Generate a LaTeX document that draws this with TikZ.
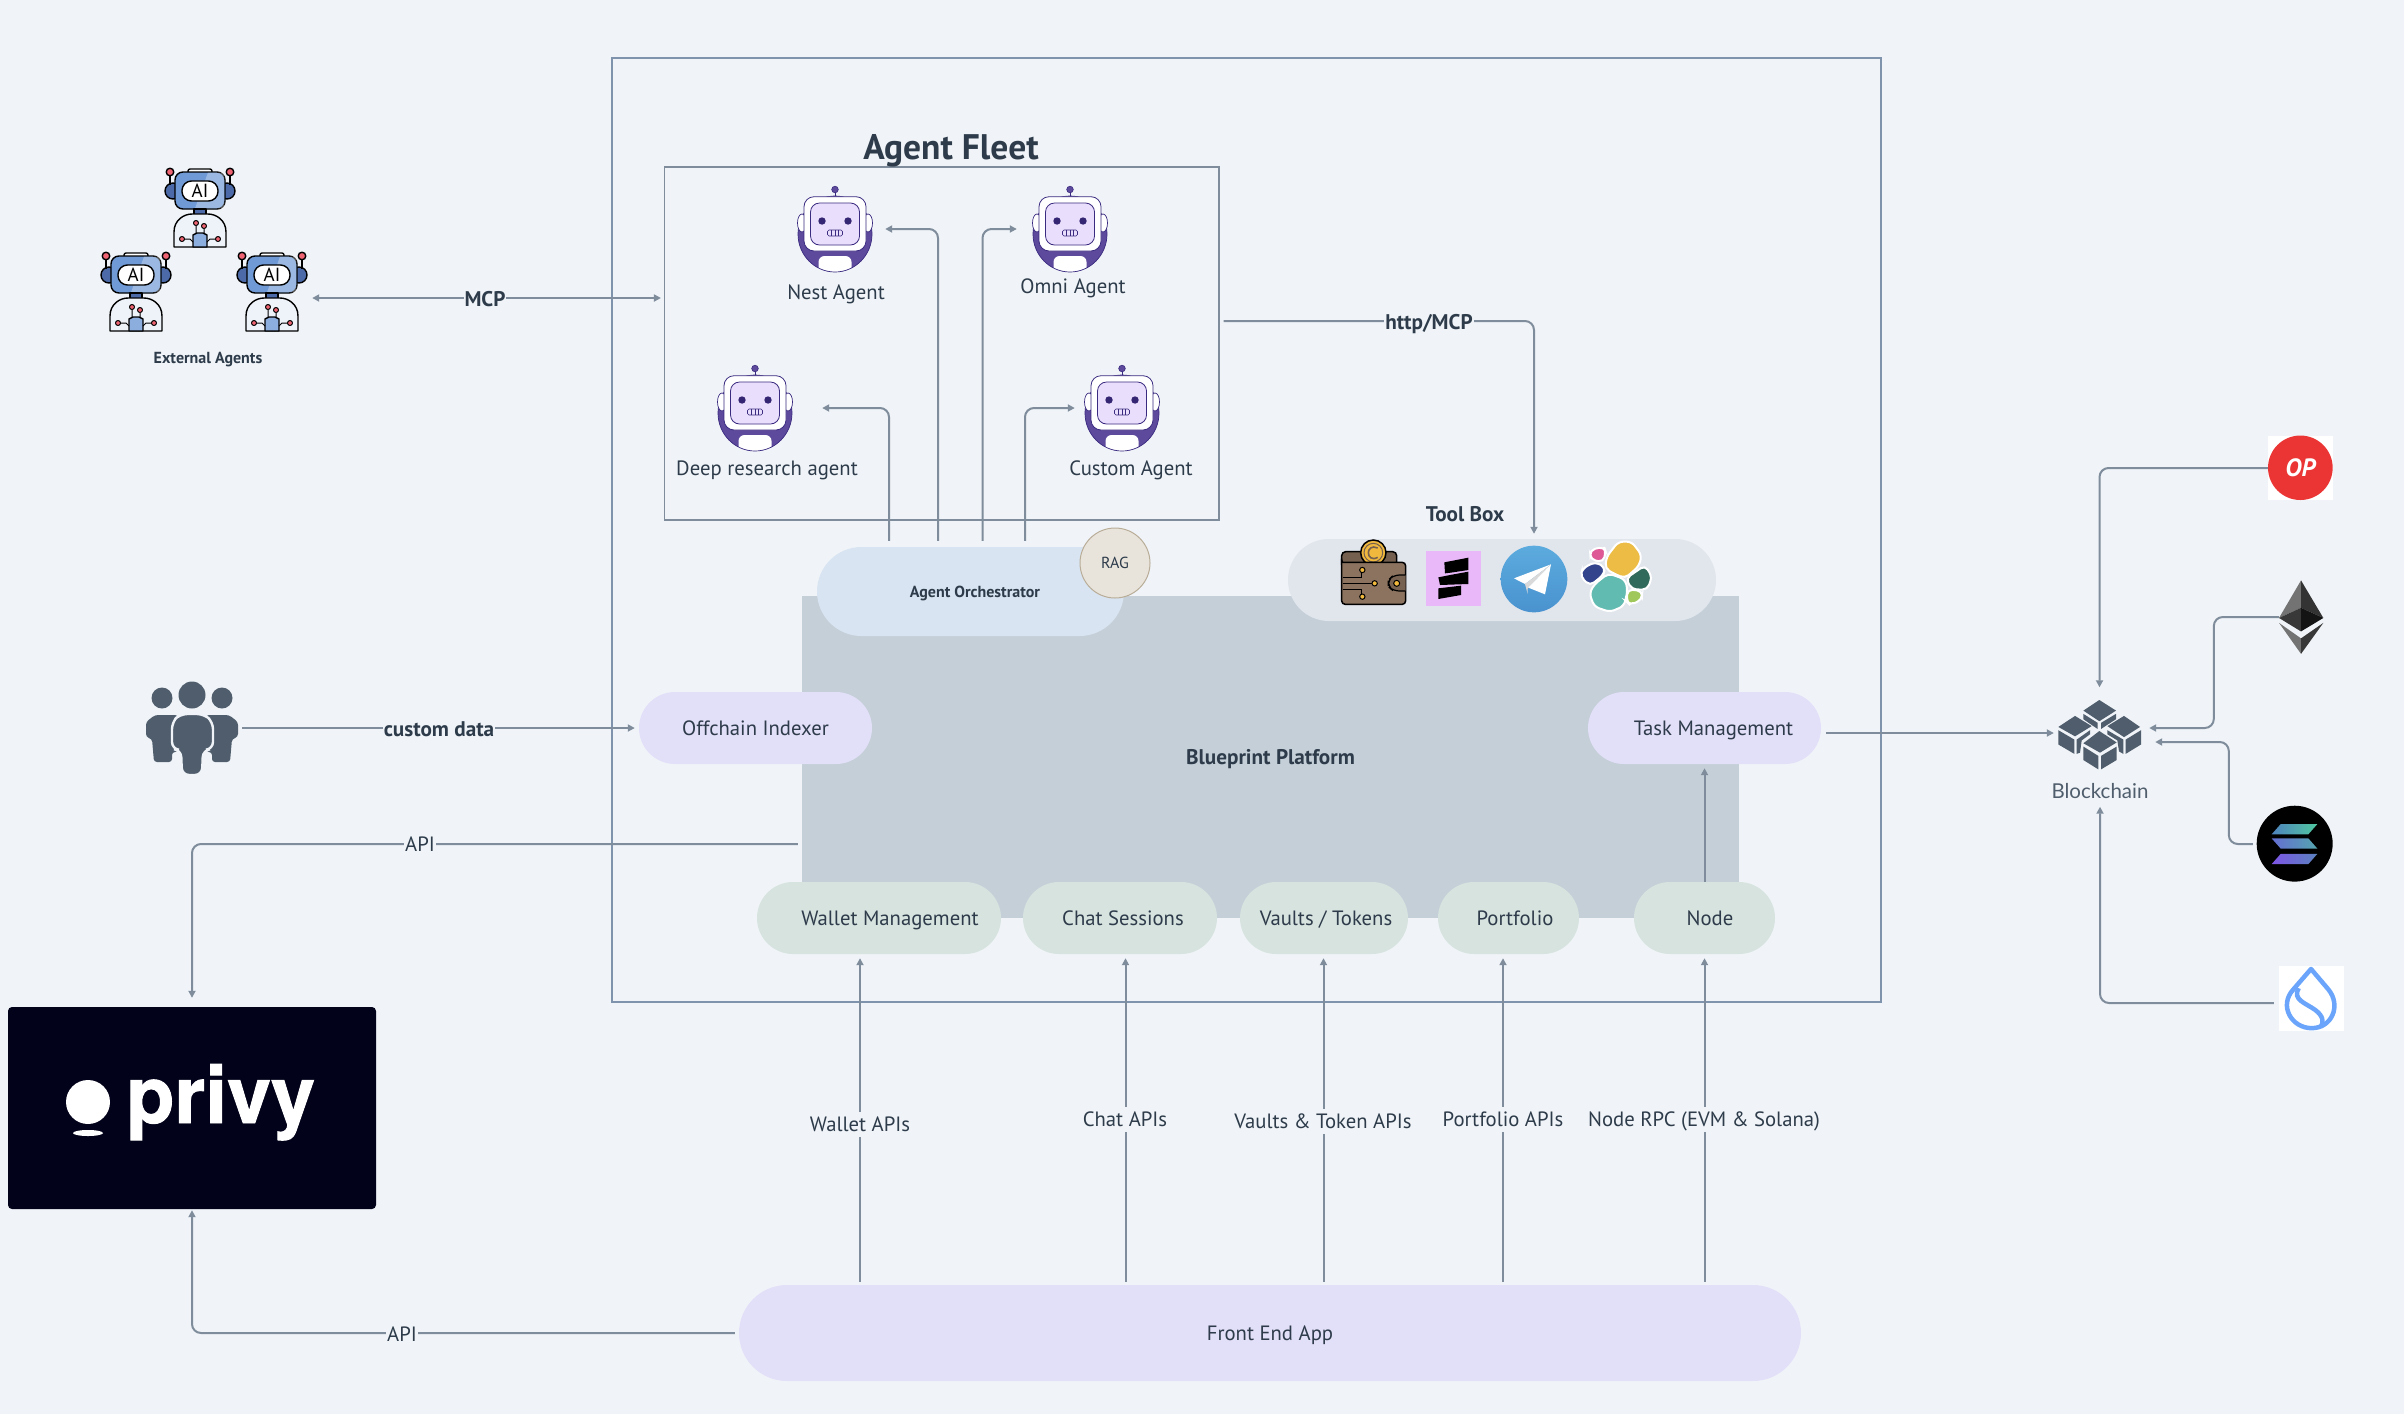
\documentclass[tikz,border=0pt]{standalone}
\usepackage{fontspec}
\setmainfont{PT Sans}
\newfontfamily\logofont[FakeBold=1.2]{TeX Gyre Heros}
\newfontfamily\chainfont{Lato}
\usetikzlibrary{arrows.meta,shapes.misc}
\definecolor{bgc}{HTML}{F0F4F8}
\definecolor{linec}{HTML}{7F8C9B}
\definecolor{framec}{HTML}{7F93AD}
\definecolor{inkc}{HTML}{2D3B4A}
\definecolor{slatec}{HTML}{4F5D6C}
\definecolor{platc}{HTML}{C4CFD8}
\definecolor{lilacc}{HTML}{E2DFF8}
\definecolor{sagec}{HTML}{D7E3DF}
\definecolor{orchc}{HTML}{D8E4F1}
\definecolor{toolc}{HTML}{E1E5EC}
\definecolor{ragc}{HTML}{E8E4DC}
\definecolor{ragl}{HTML}{B9AD98}
\definecolor{botp}{HTML}{5E4A9C}
\definecolor{botd}{HTML}{3A2A80}
\definecolor{botl}{HTML}{E9DFFC}
\definecolor{aib}{HTML}{6F9AD6}
\definecolor{aid}{HTML}{4C6AA8}
\definecolor{aired}{HTML}{EE6472}
\definecolor{suic}{HTML}{6AA5FB}
\definecolor{privyc}{HTML}{02021A}
\definecolor{walc}{HTML}{8C7360}
\definecolor{wald}{HTML}{75604F}
\definecolor{coinc}{HTML}{F0B93E}
\definecolor{squarec}{HTML}{E9B8F9}
\definecolor{tgtop}{HTML}{5CABDE}
\definecolor{tgbot}{HTML}{4992CF}
\tikzset{
  x=1pt,y=-1pt,
  txt/.style={text=inkc,font=\fontsize{20.7}{24}\selectfont,inner sep=0pt,text height=15pt,text depth=0pt},
  bold/.style={txt,font=\fontsize{21.2}{24}\selectfont\bfseries},
  lab/.style={txt,fill=bgc,inner xsep=1pt,inner ysep=5pt},
  blab/.style={bold,fill=bgc,inner xsep=1pt,inner ysep=5pt},
  pill/.style={rounded rectangle,inner sep=0pt,text=inkc,font=\fontsize{20.7}{24}\selectfont,text height=15pt,text depth=0pt},
  small/.style={font=\fontsize{16}{18}\selectfont\bfseries,text height=11.5pt,text depth=0pt},
  conn/.style={draw=linec,line width=2pt,rounded corners=9pt},
  tip/.style={-{Triangle[length=7pt,width=7pt]}},
  twotip/.style={{Triangle[length=7pt,width=7pt]}-{Triangle[length=7pt,width=7pt]}},
  holder/.style={inner sep=0pt,minimum width=#1},
  zoomA/.style={shift={(1260,490)},x=.33333pt,y=-.33333pt},
  zoomB/.style={shift={(2030,420)},x=.33333pt,y=-.40816pt},
}
\newcommand{\agentbot}[1]{%
  \begin{scope}[shift={#1}]
    \fill[botp] (0,48) ellipse [x radius=37,y radius=38];
    \begin{scope}
      \clip (0,48) ellipse [x radius=37,y radius=38];
      \fill[white,rounded corners=6pt] (-16.5,70) rectangle (16.5,100);
    \end{scope}
    \draw[botd,line width=.7pt] (0,48) ellipse [x radius=37,y radius=38];
    \draw[botd,fill=white,line width=.7pt] (-33,37) ellipse [x radius=4.5,y radius=9];
    \draw[botd,fill=white,line width=.7pt] (33,37) ellipse [x radius=4.5,y radius=9];
    \draw[botd,line width=.7pt] (0,6) -- (0,11);
    \draw[botd,fill=botp,line width=.6pt] (0,3.5) circle [radius=3.3];
    \draw[botd,fill=white,line width=.8pt,rounded corners=10pt] (-31,10.7) rectangle (31,65);
    \draw[botd,fill=botl,line width=.8pt,rounded corners=9pt] (-24.5,17) rectangle (24.5,59);
    \fill[botd!90!black] (-13,35) circle [radius=3.7] (13,35) circle [radius=3.7];
    \draw[botd,fill=botl,line width=.6pt,rounded corners=1.5pt] (-7.5,44) rectangle (7.5,50);
    \draw[botd,line width=.5pt] (-3.5,44) -- (-3.5,50) (0,44) -- (0,50) (3.5,44) -- (3.5,50);
  \end{scope}}
\newcommand{\airobot}[2]{%
  \begin{scope}[shift={#1},line width=1.4pt,line join=round]
    \draw[fill=aid] (-27,23) circle [radius=8];
    \draw[fill=aid] (27,23) circle [radius=8];
    \draw (-30,8) -- (-30,17) (30,8) -- (30,17);
    \draw[fill=aired] (-30,4) circle [radius=3.8];
    \draw[fill=aired] (30,4) circle [radius=3.8];
    \draw[fill=white,rounded corners=2pt] (-12,1) rectangle (12,6);
    \draw[fill=aib,rounded corners=8pt] (-25,4) rectangle (25,41);
    \fill[white,opacity=.3] (8,4.6) -- (24.3,4.6) -- (24.3,40.4) -- (-5,40.4) -- cycle;
    \draw[fill=white,rounded corners=9.5pt] (-18,13) rectangle (18,33);
    \node[inner sep=0pt,text=black,font=\fontsize{19}{20}\selectfont] (#2) at (0,23) {AI};
    \draw[fill=aid] (-6,41) rectangle (6,47);
    \draw[fill=white!88!aib] (-26,79) -- (-26,64) .. controls (-26,52) and (-16,46) .. (-8,46) -- (8,46) .. controls (16,46) and (26,52) .. (26,64) -- (26,79) -- cycle;
    \draw[fill=aib!80!white] (-7,79) -- (-7,67) -- (-3,65) -- (3,65) -- (7,67) -- (7,79) -- cycle;
    \draw[line width=1pt] (-4,58) -- (-4,65) (4,61) -- (4,65) (-16,71) -- (-10,71) -- (-7,74) (16,71) -- (10,71) -- (7,74);
    \draw[line width=1pt,fill=aired] (-4,55) circle [radius=2.5];
    \draw[line width=1pt,fill=aired] (4,58) circle [radius=2.5];
    \draw[line width=1pt,fill=aired] (-18,71) circle [radius=2.5];
    \draw[line width=1pt,fill=aired] (18,71) circle [radius=2.5];
  \end{scope}}
\begin{document}
\begin{tikzpicture}
\useasboundingbox (0,0) rectangle (2404,1414);
\fill[bgc] (0,0) rectangle (2404,1414);

% frames
\node[draw=framec,line width=1.4pt,minimum width=1269pt,minimum height=944pt,inner sep=0pt] (frame) at (1246.5,530) {};
\node[draw=linec,line width=1.1pt,minimum width=554.5pt,minimum height=353pt,inner sep=0pt] (fleet) at (941.75,343.5) {};
\node[bold,font=\fontsize{35.5}{38}\selectfont\bfseries,text height=25pt] (fleetT) at (951,147) {Agent Fleet};
\node[fill=platc,minimum width=937pt,minimum height=322pt,inner sep=0pt,text=inkc,font=\fontsize{21.2}{24}\selectfont\bfseries,text height=15pt,text depth=0pt] (platform) at (1270.5,757) {Blueprint Platform};

% icon holders
\node[holder=75pt,minimum height=86pt] (nest) at (835,229) {};
\node[holder=75pt,minimum height=86pt] (omni) at (1070,229) {};
\node[holder=75pt,minimum height=86pt] (deep) at (755,408) {};
\node[holder=75pt,minimum height=86pt] (custom) at (1122,408) {};
\node[holder=74pt,minimum height=80pt] (extT) at (200,207) {};
\node[holder=74pt,minimum height=80pt] (extL) at (136,292) {};
\node[holder=74pt,minimum height=80pt] (extR) at (272,292) {};
\node[holder=100pt,minimum height=92pt] (people) at (192,728) {};
\node[holder=83pt,minimum height=69pt] (chain) at (2099.5,734) {};
\node[holder=65pt,minimum height=64pt,fill=white] (op) at (2300.5,468) {};
\node[holder=44pt,minimum height=74pt] (eth) at (2301,617) {};
\node[holder=84pt,minimum height=76pt] (sol) at (2295,844) {};
\node[holder=65pt,minimum height=65pt,fill=white] (sui) at (2311.5,998.5) {};
\node[fill=privyc,rounded corners=4pt,minimum width=368pt,minimum height=202pt,inner sep=0pt] (privy) at (192,1108) {};
\node[txt,text=slatec,font=\chainfont\fontsize{20.5}{22}\selectfont] (chainL) at (2100,791) {Blockchain};
\node[bold,small] (extLbl) at (208,358) {External Agents};

% text of agents
\node[txt] (nestL) at (836,292) {Nest Agent};
\node[txt] (omniL) at (1073,286) {Omni Agent};
\node[txt] (deepL) at (767,468) {Deep research agent};
\node[txt] (customL) at (1131,468) {Custom Agent};
\node[bold] (toolL) at (1465,514) {Tool Box};

% pills
\node[pill,fill=toolc,minimum width=428pt,minimum height=82pt] (tools) at (1502,580) {};
\node[pill,fill=orchc,minimum width=307pt,minimum height=89pt,small] (orch) at (970.5,591.5) {\hspace*{9pt}Agent Orchestrator};
\node[pill,fill=lilacc,minimum width=233pt,minimum height=72pt] (offchain) at (755.5,728) {Offchain Indexer};
\node[pill,fill=lilacc,minimum width=233pt,minimum height=72pt] (task) at (1704.5,728) {\hspace*{18pt}Task Management};
\node[pill,fill=sagec,minimum width=244pt,minimum height=72pt] (wm) at (879,918) {\hspace*{22pt}Wallet Management};
\node[pill,fill=sagec,minimum width=194pt,minimum height=72pt] (chat) at (1120,918) {\hspace*{6pt}Chat Sessions};
\node[pill,fill=sagec,minimum width=168pt,minimum height=72pt] (vaults) at (1324,918) {\hspace*{4pt}Vaults / Tokens};
\node[pill,fill=sagec,minimum width=141pt,minimum height=72pt] (port) at (1508.5,918) {\hspace*{13pt}Portfolio};
\node[pill,fill=sagec,minimum width=141pt,minimum height=72pt] (nodeP) at (1704.5,918) {\hspace*{11pt}Node};
\node[pill,fill=lilacc,minimum width=1062pt,minimum height=96pt] (fe) at (1270,1333) {Front End App};
\node[draw=ragl,line width=1pt,fill=ragc,circle,minimum size=70pt,inner sep=0pt,text=inkc,font=\fontsize{16}{18}\selectfont,text height=11.5pt,text depth=0pt] (rag) at (1115,563) {RAG};

% connectors: agents
\draw[conn,tip,shorten <=6pt,shorten >=12.5pt] ([xshift=-32.5pt]orch.north) |- (nest.east);
\draw[conn,tip,shorten <=6pt,shorten >=15.5pt] ([xshift=12pt]orch.north) |- (omni.west);
\draw[conn,tip,shorten <=6pt,shorten >=9.5pt] ([xshift=54.5pt]orch.north) |- (custom.west);
\draw[conn,tip,shorten <=6pt,shorten >=29.5pt] ([xshift=-81.5pt]orch.north) |- (deep.east);
% MCP
\coordinate (mcpA) at ([yshift=-6pt]extR.east);
\draw[conn,twotip,shorten <=3pt,shorten >=3pt] (mcpA) -- (mcpA -| fleet.west);
\node[blab] (mcpL) at (485,299) {MCP};
% http
\coordinate (httpA) at ([yshift=22.5pt]fleet.east);
\coordinate (toolIn) at ([xshift=32pt]tools.north);
\draw[conn,tip,shorten <=4pt,shorten >=5pt] (httpA) -| (toolIn);
\node[blab] (httpL) at (1429,322) {http/MCP};
% custom data
\draw[conn,tip,shorten >=4pt] (people.east) -- (offchain.west);
\node[blab] (dataL) at (439,729) {custom data};
% API
\coordinate (apiA) at ([yshift=-87pt]platform.west);
\draw[conn,tip,shorten <=4pt,shorten >=9pt] (apiA) -| (privy.north);
\node[lab] (apiTop) at (420,844) {API};
\draw[conn,tip,shorten <=4pt,shorten >=1pt] (fe.west) -| (privy.south);
\node[lab] (apiBot) at (402,1334) {API};
% Front end
\coordinate (wmIn) at ([xshift=-19pt]wm.south);
\coordinate (chatIn) at ([xshift=5.5pt]chat.south);
\coordinate (vaultIn) at ([xshift=-.5pt]vaults.south);
\coordinate (portIn) at ([xshift=-5.5pt]port.south);
\coordinate (nodeIn) at ([xshift=0pt]nodeP.south);
\foreach \c in {wmIn,chatIn,vaultIn,portIn,nodeIn}
  \draw[conn,tip,shorten <=3pt,shorten >=4pt] (\c |- fe.north) -- (\c);
\node[lab] (apiW) at (860,1124) {Wallet APIs};
\node[lab] (apiC) at (1125,1119) {Chat APIs};
\node[lab] (apiV) at (1323,1121) {Vaults \& Token APIs};
\node[lab] (apiP) at (1503,1119) {Portfolio APIs};
\node[lab] (apiN) at (1704,1119) {Node RPC (EVM \& Solana)};
\coordinate (nodeUp) at (nodeP.north);
\draw[conn,tip,shorten >=4pt] (nodeUp) -- (nodeUp |- task.south);
% blockchain
\coordinate (tmA) at ([xshift=5pt,yshift=-5pt]task.east);
\draw[conn,tip,shorten >=4pt] (tmA) -- (tmA -| chain.west);
\draw[conn,tip,shorten >=12pt] (op.west) -| (chain.north);
\coordinate (ethIn) at ([yshift=6pt]chain.east);
\draw[conn,tip,shorten >=8pt] (eth.west) -- ++(-65,0) |- (ethIn);
\coordinate (solIn) at ([yshift=-8pt]chain.east);
\draw[conn,tip,shorten >=14pt] (sol.west) -- ++(-24,0) |- (solIn);
\coordinate (suiA) at ([xshift=-5pt,yshift=-4.5pt]sui.west);
\draw[conn,tip,shorten >=8pt] (suiA) -| (chainL.south);

% robots
\agentbot{(835,186)}
\agentbot{(1070,186)}
\agentbot{(755,365)}
\agentbot{(1122,365)}
\airobot{(200,168)}{aiT}
\airobot{(136,252)}{aiL}
\airobot{(272,252)}{aiR}

% people
\begin{scope}[slatec]
  \fill (162,698) circle [radius=10.5] (222,698) circle [radius=10.5] (192,695) circle [radius=13.5];
  \fill[rounded corners=3pt] (155,715) -- (178,715) -- (178,752) -- (172,752) -- (172,762) -- (154,762) -- (152,739) -- (146,737) -- (146,722) -- cycle;
  \fill[rounded corners=3pt] (229,715) -- (206,715) -- (206,752) -- (212,752) -- (212,762) -- (230,762) -- (232,739) -- (238,737) -- (238,722) -- cycle;
  \draw[bgc,line width=2.4pt,fill=slatec,rounded corners=7pt] (172,749) -- (172,722) -- (180,714) -- (204,714) -- (213,722) -- (213,749) -- (203,750) -- (202,775) -- (182,775) -- (181,750) -- cycle;
\end{scope}

% privy logo
\fill[white] (88,1102) circle [radius=22];
\fill[white] (88,1133) ellipse [x radius=15,y radius=3];
\node[inner sep=0pt,anchor=base west,text=white,font=\logofont\fontsize{79}{84}\selectfont\bfseries] (privyT) at (126,1123) {privy};

% toolbox icons
\begin{scope}[zoomA]
  % wallet
  \draw[black,fill=wald,line width=1.5pt,rounded corners=4pt] (245,225) -- (245,185) -- (410,185) -- (410,225);
  \draw[black,fill=coinc,line width=1.5pt] (340,188) circle [radius=38];
  \draw[wald,line width=1pt] (340,188) circle [radius=28];
  \draw[wald,line width=1.6pt] (353,174) .. controls (335,165) and (325,178) .. (325,188) .. controls (325,200) and (335,212) .. (353,202);
  \draw[black,fill=walc,line width=1.5pt,rounded corners=3.5pt] (245,200) .. controls (245,217) and (250,217) .. (260,217) -- (437,217) -- (437,343) -- (245,343) -- cycle;
  \draw[black,line width=1.2pt,fill=walc!85!black,rounded corners=6pt] (437,255) -- (400,255) -- (385,270) -- (385,290) -- (400,303) -- (437,303);
  \draw[black,fill=coinc,line width=1pt] (410,280) circle [radius=9];
  \draw[black,line width=1pt] (248,262) -- (305,262) -- (305,240) (248,280) -- (342,280) (248,297) -- (305,297) -- (305,320);
  \draw[black,fill=coinc,line width=1pt] (307,240) circle [radius=8];
  \draw[black,fill=coinc,line width=1pt] (344,280) circle [radius=8];
  \draw[black,fill=coinc,line width=1pt] (307,320) circle [radius=8];
  % square logo
  \fill[squarec] (498,182) rectangle (663,348);
  \fill[black] (553,217) -- (625,203) -- (625,240) -- (572,248) -- (555,250) -- cycle;
  \fill[black] (625,245) -- (625,282) -- (540,285) -- (535,262) -- (570,255) -- cycle;
  \fill[black] (535,295) -- (603,287) -- (603,315) -- (535,327) -- cycle;
  % telegram
  \shade[top color=tgtop,bottom color=tgbot] (822,267) circle [radius=100];
  \fill[white] (762,265) -- (873,223) -- (795,282) -- cycle;
  \fill[black!15!white] (795,282) -- (873,223) -- (803,296) -- (803,312) -- cycle;
  \fill[white] (805,293) -- (873,223) -- (855,313) -- cycle;
  % elastic
  \begin{scope}[draw=white,line width=2pt,rounded corners=5pt]
    \draw[fill={rgb,255:red,236;green,188;blue,69}] (1040,200) -- (1075,155) -- (1115,155) -- (1145,195) -- (1137,228) -- (1095,265) -- (1060,250) -- (1035,235) -- cycle;
    \draw[fill={rgb,255:red,98;green,187;blue,177}] (1045,250) -- (1095,268) -- (1103,300) -- (1092,348) -- (1050,366) -- (1003,350) -- (988,310) -- (1003,283) -- cycle;
    \draw[fill={rgb,255:red,51;green,68;blue,140}] (968,235) -- (1005,216) -- (1036,232) -- (1030,255) -- (990,287) -- (961,260) -- cycle;
    \draw[fill={rgb,255:red,221;green,90;blue,150}] (990,180) -- (1032,170) -- (1037,185) -- (1030,216) -- (992,209) -- cycle;
    \draw[fill={rgb,255:red,49;green,106;blue,90}] (1098,265) -- (1155,226) -- (1176,260) -- (1162,299) -- (1115,298) -- cycle;
    \draw[fill={rgb,255:red,159;green,199;blue,89}] (1103,298) -- (1147,303) -- (1145,330) -- (1110,345) -- (1100,335) -- cycle;
  \end{scope}
\end{scope}

% chain logos
\begin{scope}[zoomB]
  % blockchain
  \fill[slatec] (160,712) -- (208,686) -- (258,712) -- (208,738) -- cycle;
  \fill[slatec] (160,720) -- (203,742) -- (203,757) -- (190,750) -- (160,733) -- cycle;
  \fill[slatec] (258,720) -- (213,742) -- (213,757) -- (226,750) -- (258,733) -- cycle;
  \fill[slatec] (85,752) -- (135,725) -- (185,750) -- (135,775) -- cycle;
  \fill[slatec] (85,760) -- (133,783) -- (133,818) -- (85,795) -- cycle;
  \fill[slatec] (140,783) -- (180,760) -- (180,770) -- (155,785) -- (150,815) -- (140,818) -- cycle;
  \fill[slatec] (232,750) -- (282,725) -- (330,752) -- (282,777) -- cycle;
  \fill[slatec] (287,783) -- (333,760) -- (333,795) -- (287,818) -- cycle;
  \fill[slatec] (232,760) -- (280,783) -- (280,818) -- (267,812) -- (262,785) -- (232,770) -- cycle;
  \fill[slatec] (160,792) -- (208,762) -- (260,790) -- (210,815) -- cycle;
  \fill[slatec] (160,800) -- (205,823) -- (205,856) -- (160,833) -- cycle;
  \fill[slatec] (213,823) -- (260,800) -- (260,833) -- (213,856) -- cycle;
  % OP
  \fill[color={rgb,255:red,235;green,53;blue,53}] (811,117) ellipse [x radius=97,y radius=79];
  \node[inner sep=0pt,text=white,font=\fontsize{25}{26}\selectfont\bfseries\itshape] (opT) at (811,117) {OP};
  % ETH
  \fill[black!55!white] (813,393) -- (747,485) -- (813,460) -- cycle;
  \fill[black!80!white] (813,393) -- (880,485) -- (813,460) -- cycle;
  \fill[black!78!white] (747,485) -- (813,460) -- (813,518) -- cycle;
  \fill[black!92!white] (813,460) -- (880,485) -- (813,518) -- cycle;
  \fill[black!55!white] (747,497) -- (813,535) -- (813,573) -- cycle;
  \fill[black!78!white] (813,535) -- (880,497) -- (813,573) -- cycle;
  % SOL
  \fill[black] (794,1038) ellipse [x radius=114,y radius=93];
  \shade[left color={rgb,255:red,79;green,130;blue,190},right color={rgb,255:red,80;green,200;blue,160}] (752,990) -- (862,990) -- (835,1015) -- (725,1015) -- cycle;
  \shade[left color={rgb,255:red,100;green,110;blue,210},right color={rgb,255:red,85;green,165;blue,175}] (725,1025) -- (835,1025) -- (862,1050) -- (752,1050) -- cycle;
  \shade[left color={rgb,255:red,125;green,85;blue,230},right color={rgb,255:red,90;green,130;blue,190}] (752,1063) -- (862,1063) -- (835,1088) -- (725,1088) -- cycle;
  % SUI
  \draw[suic,line width=4.5pt,line join=round] (843,1345) -- (895,1395) .. controls (935,1435) and (905,1490) .. (845,1490) .. controls (785,1490) and (745,1435) .. (790,1395) -- cycle;
  \draw[suic,line width=4.5pt] (806,1392) .. controls (785,1420) and (830,1430) .. (855,1445) .. controls (880,1460) and (882,1475) .. (872,1488);
\end{scope}
\end{tikzpicture}
\end{document}
